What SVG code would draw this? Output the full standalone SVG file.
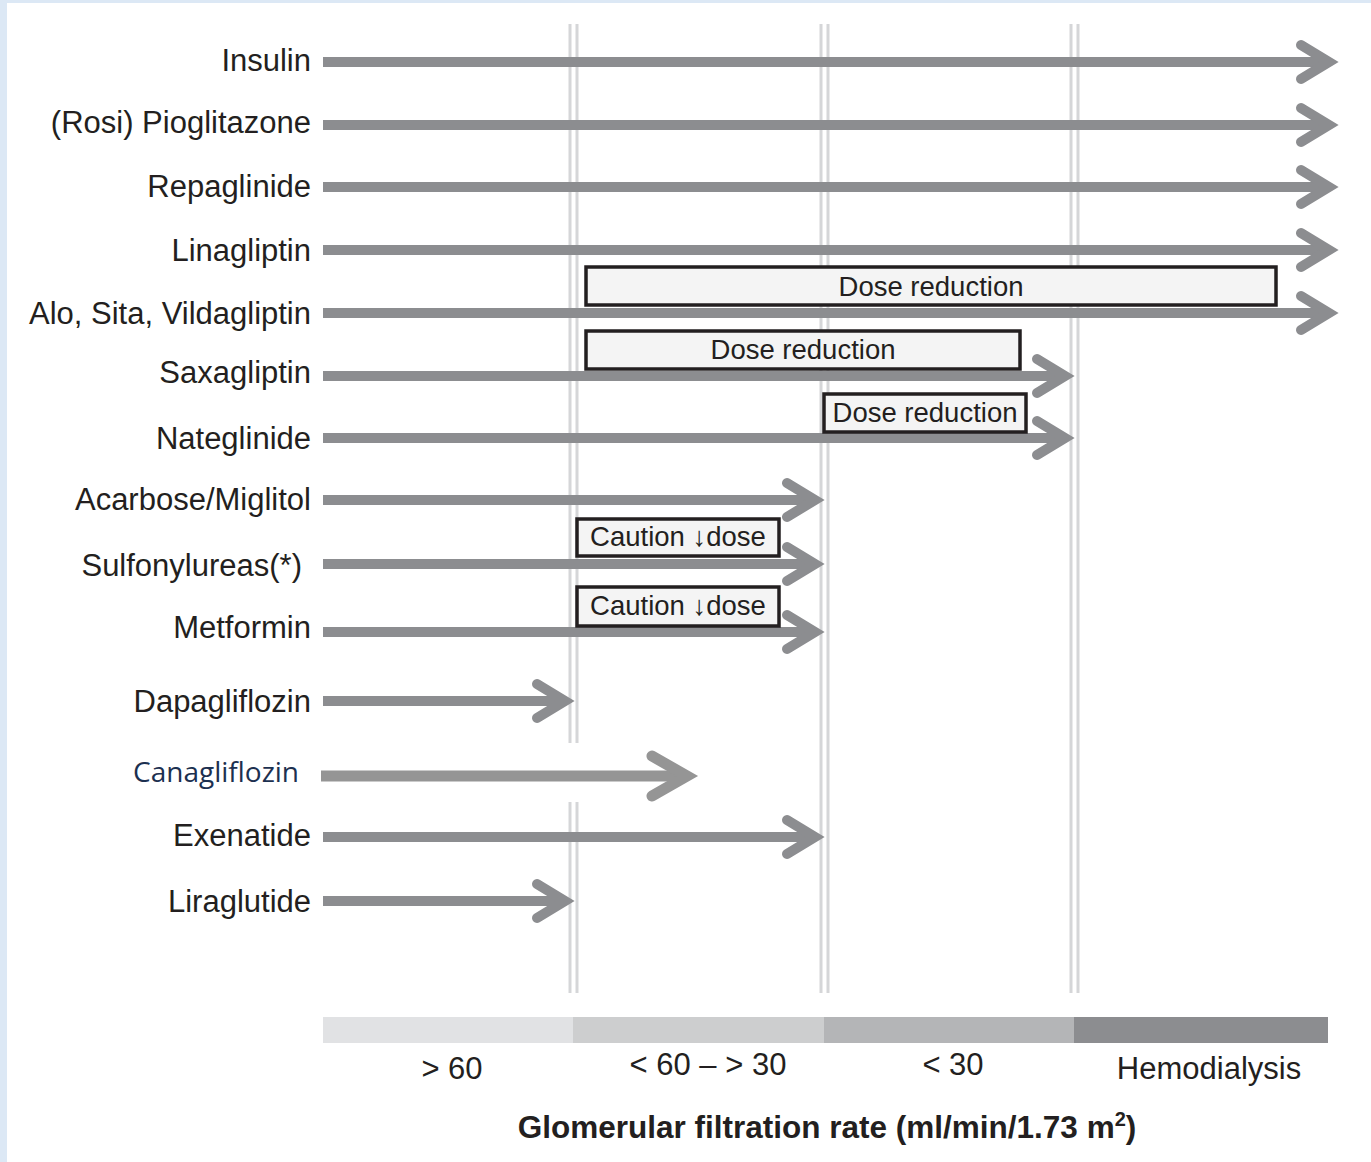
<svg xmlns="http://www.w3.org/2000/svg" width="1371" height="1162" viewBox="0 0 1371 1162">
<style>
.lbl{font-family:"Liberation Sans",Arial,sans-serif;font-size:31px;fill:#231f20;text-anchor:end}
.ax{font-family:"Liberation Sans",Arial,sans-serif;font-size:31px;fill:#231f20;text-anchor:middle}
.bt{font-family:"Liberation Sans",Arial,sans-serif;font-size:27.5px;fill:#231f20;text-anchor:middle}
.ttl{font-family:"Liberation Sans",Arial,sans-serif;font-size:31.5px;font-weight:bold;fill:#231f20;text-anchor:middle}
.shaft{stroke:#8c8d90;stroke-width:10;fill:none}
.head{stroke:#8c8d90;stroke-width:10;fill:none;stroke-linecap:round;stroke-linejoin:miter;stroke-miterlimit:10}
.vl{stroke:#d5d6d8;stroke-width:3}
.box{fill:#f4f4f4;stroke:#231f20;stroke-width:3.5}
</style>
<rect x="0" y="0" width="1371" height="1162" fill="#dce8f5"/>
<rect x="7" y="3" width="1364" height="1159" fill="#ffffff"/>
<g id="gridlines">
<line class="vl" x1="570" y1="24" x2="570" y2="743"/>
<line class="vl" x1="577" y1="24" x2="577" y2="743"/>
<line class="vl" x1="570" y1="802" x2="570" y2="993"/>
<line class="vl" x1="577" y1="802" x2="577" y2="993"/>
<line class="vl" x1="821" y1="24" x2="821" y2="993"/>
<line class="vl" x1="828" y1="24" x2="828" y2="993"/>
<line class="vl" x1="1071" y1="24" x2="1071" y2="993"/>
<line class="vl" x1="1078" y1="24" x2="1078" y2="993"/>
</g>
<g id="connectors">
<line class="shaft" x1="323" y1="62" x2="1329" y2="62"/><polyline class="head" points="1301,45 1329,62 1301,79"/>
<line class="shaft" x1="323" y1="125" x2="1329" y2="125"/><polyline class="head" points="1301,108 1329,125 1301,142"/>
<line class="shaft" x1="323" y1="187" x2="1329" y2="187"/><polyline class="head" points="1301,170 1329,187 1301,204"/>
<line class="shaft" x1="323" y1="250" x2="1329" y2="250"/><polyline class="head" points="1301,233 1329,250 1301,267"/>
<line class="shaft" x1="323" y1="313" x2="1329" y2="313"/><polyline class="head" points="1301,296 1329,313 1301,330"/>
<line class="shaft" x1="323" y1="376" x2="1065" y2="376"/><polyline class="head" points="1037,359 1065,376 1037,393"/>
<line class="shaft" x1="323" y1="438" x2="1065" y2="438"/><polyline class="head" points="1037,421 1065,438 1037,455"/>
<line class="shaft" x1="323" y1="500" x2="815" y2="500"/><polyline class="head" points="787,483 815,500 787,517"/>
<line class="shaft" x1="323" y1="564" x2="815" y2="564"/><polyline class="head" points="787,547 815,564 787,581"/>
<line class="shaft" x1="323" y1="632" x2="815" y2="632"/><polyline class="head" points="787,615 815,632 787,649"/>
<line class="shaft" x1="323" y1="701" x2="565" y2="701"/><polyline class="head" points="537,684 565,701 537,718"/>
<line class="shaft" x1="321" y1="776" x2="687" y2="776" style="stroke:#959595;stroke-width:11"/><polyline class="head" points="652,756 687,776 652,796" style="stroke:#959595;stroke-width:11"/>
<line class="shaft" x1="323" y1="837" x2="815" y2="837"/><polyline class="head" points="787,820 815,837 787,854"/>
<line class="shaft" x1="323" y1="901" x2="565" y2="901"/><polyline class="head" points="537,884 565,901 537,918"/>
</g>
<g id="labels">
<text class="lbl" x="311" y="71">Insulin</text>
<text class="lbl" x="311" y="133">(Rosi) Pioglitazone</text>
<text class="lbl" x="311" y="197">Repaglinide</text>
<text class="lbl" x="311" y="261">Linagliptin</text>
<text class="lbl" x="311" y="324">Alo, Sita, Vildagliptin</text>
<text class="lbl" x="311" y="383">Saxagliptin</text>
<text class="lbl" x="311" y="449">Nateglinide</text>
<text class="lbl" x="311" y="510">Acarbose/Miglitol</text>
<text class="lbl" x="302" y="576">Sulfonylureas(*)</text>
<text class="lbl" x="311" y="638">Metformin</text>
<text class="lbl" x="311" y="712">Dapagliflozin</text>
<text x="299" y="782" style="font-family:'Open Sans',sans-serif;font-size:28px;fill:#1c3050;text-anchor:end">Canagliflozin</text>
<text class="lbl" x="311" y="846">Exenatide</text>
<text class="lbl" x="311" y="912">Liraglutide</text>
</g>
<g id="box-alo">
<rect class="box" x="586" y="267" width="690" height="38"/>
<text class="bt" x="931" y="296">Dose reduction</text>
</g>
<g id="box-saxa">
<rect class="box" x="586" y="331" width="434" height="38"/>
<text class="bt" x="803" y="359">Dose reduction</text>
</g>
<g id="box-nateg">
<rect class="box" x="824" y="394" width="202" height="38"/>
<text class="bt" x="925" y="422">Dose reduction</text>
</g>
<g id="box-sulf">
<rect class="box" x="577" y="519" width="202" height="37"/>
<text class="bt" x="678" y="546">Caution ↓dose</text>
</g>
<g id="box-metf">
<rect class="box" x="577" y="587" width="202" height="39"/>
<text class="bt" x="678" y="615">Caution ↓dose</text>
</g>
<g id="axis">
<rect x="323" y="1017" width="250" height="26" fill="#e1e2e4"/>
<rect x="573" y="1017" width="251" height="26" fill="#cdcecf"/>
<rect x="824" y="1017" width="250" height="26" fill="#b4b5b7"/>
<rect x="1074" y="1017" width="254" height="26" fill="#8c8d90"/>
<text class="ax" x="452" y="1079">&gt; 60</text>
<text class="ax" x="708" y="1075">&lt; 60 – &gt; 30</text>
<text class="ax" x="953" y="1075">&lt; 30</text>
<text class="ax" x="1209" y="1079">Hemodialysis</text>
<text class="ttl" x="827" y="1138">Glomerular filtration rate (ml/min/1.73 m<tspan font-size="20" dy="-12">2</tspan><tspan dy="12">)</tspan></text>
</g>
</svg>
